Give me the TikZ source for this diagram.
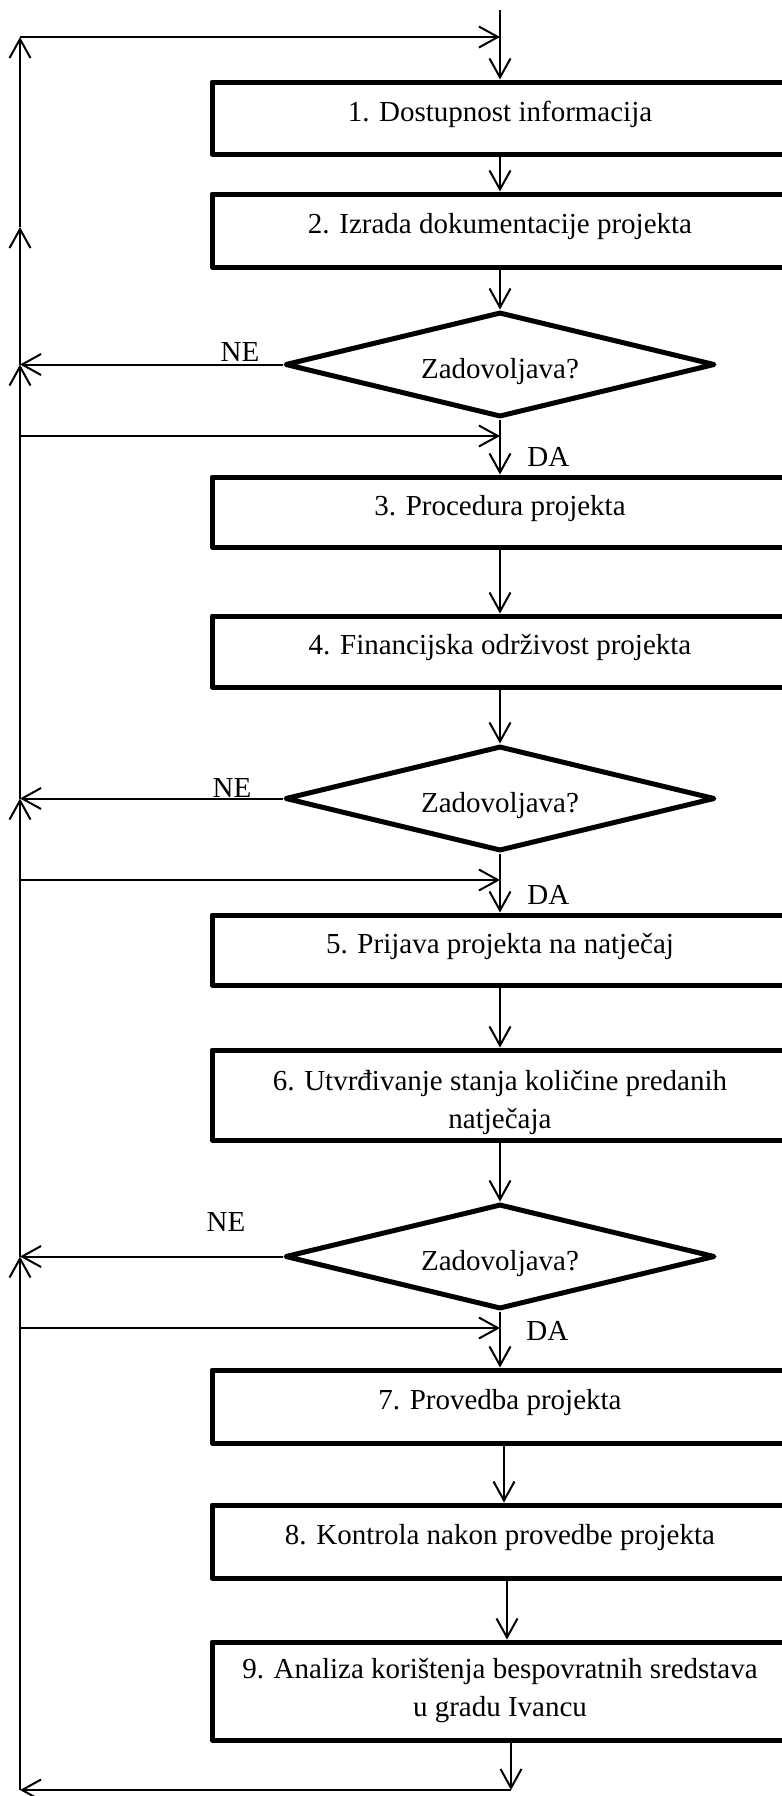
\documentclass[tikz,border=0pt]{standalone}
\usepackage{fontspec}
\setmainfont{Liberation Serif}
\usetikzlibrary{arrows.meta, shapes.geometric}

\begin{document}
\begin{tikzpicture}[
        x=0.5pt, y=-0.5pt,
        font=\fontsize{14.5}{19}\selectfont,
        % boxes and decisions of the flowchart
        stepbox/.style={draw, rectangle, line width=2.5pt, line join=round,
            minimum width=288pt, inner sep=0pt, align=center},
        onel/.style={text depth=6.8pt},
        decision/.style={draw, diamond, aspect=4.1, line width=2.5pt, line join=round,
            minimum width=215pt, minimum height=52.5pt, inner sep=0pt, text height=16.9pt},
        arr/.style={line width=1pt, -{Straight Barb[length=9.5pt, width=10.5pt]}},
        lbl/.style={inner sep=0pt}
    ]
    \useasboundingbox (0,0) rectangle (782,1796);
    \clip (0,0) rectangle (782,1796);

    % steps
    \node[stepbox, onel, minimum height=36pt] (b1) at (500,118) {1. Dostupnost informacija};
    \node[stepbox, onel, minimum height=36.5pt] (b2) at (500,230.5) {2. Izrada dokumentacije projekta};
    \node[decision] (d1) at (500,364.5) {Zadovoljava?};
    \node[stepbox, onel, minimum height=35pt] (b3) at (500,512) {3. Procedura projekta};
    \node[stepbox, onel, minimum height=35.5pt] (b4) at (500,651.5) {4. Financijska održivost projekta};
    \node[decision] (d2) at (500,798.5) {Zadovoljava?};
    \node[stepbox, onel, minimum height=35pt] (b5) at (500,950) {5. Prijava projekta na natječaj};
    \node[stepbox, minimum height=45pt, text height=36.7pt] (b6) at (500,1095)
        {6. Utvrđivanje stanja količine predanih\\natječaja};
    \node[decision] (d3) at (500,1256.5) {Zadovoljava?};
    \node[stepbox, onel, minimum height=36.5pt] (b7) at (500,1406.5) {7. Provedba projekta};
    \node[stepbox, onel, minimum height=36.5pt] (b8) at (500,1541.5) {8. Kontrola nakon provedbe projekta};
    \node[stepbox, minimum height=49pt] (b9) at (500,1691)
        {9. Analiza korištenja bespovratnih sredstava\\u gradu Ivancu};

    % labels
    \node[lbl] (ne1) at (240,352) {NE};
    \node[lbl] (ne2) at (232,788) {NE};
    \node[lbl] (ne3) at (226,1222) {NE};
    \node[lbl, anchor=west] (da1) at (527,457) {DA};
    \node[lbl, anchor=west] (da2) at (527,895) {DA};
    \node[lbl, anchor=west] (da3) at (526,1331) {DA};

    % points on the left rail
    \coordinate (entry) at (500,10);
    \coordinate (ltop) at (20,37);
    \coordinate (lmid) at (20,227);
    \coordinate (lne1) at (d1.west -| ltop);
    \coordinate (lne2) at (d2.west -| ltop);
    \coordinate (lne3) at (d3.west -| ltop);
    \coordinate (lda1) at (20,436);
    \coordinate (lda2) at (20,880);
    \coordinate (lda3) at (20,1328);
    \coordinate (lbot) at (20,1790);
    \coordinate (b9out) at ([xshift=5.5pt]b9.south);
    \coordinate (bcorner) at (b9out |- lbot);

    % main flow
    \draw[line width=1pt] (entry) -- (entry |- ltop);
    \draw[arr] (entry |- ltop) -- (b1.north);
    \draw[arr] (b1) -- (b2);
    \draw[arr] (b2) -- (d1);
    \draw[arr] (d1) -- (b3);
    \draw[arr] (b3) -- (b4);
    \draw[arr] (b4) -- (d2);
    \draw[arr] (d2) -- (b5);
    \draw[arr] (b5) -- (b6);
    \draw[arr] (b6) -- (d3);
    \draw[arr] (d3) -- (b7);
    \draw[arr] ([xshift=2pt]b7.south) -- ([xshift=2pt]b8.north);
    \draw[arr] ([xshift=3.5pt]b8.south) -- ([xshift=3.5pt]b9.north);
    \draw[arr] (b9out) -- (bcorner);
    \draw[arr] (bcorner) -- (lbot);

    % feedback rail
    \draw[arr] (lbot) -- (lne3);
    \draw[arr] (lne3) -- (lne2);
    \draw[arr] (lne2) -- (lne1);
    \draw[arr] (lne1) -- (lmid);
    \draw[arr] (lmid) -- (ltop);
    \draw[arr] (ltop) -- (entry |- ltop);

    % NE branches
    \draw[arr] (d1.west) -- (lne1);
    \draw[arr] (d2.west) -- (lne2);
    \draw[arr] (d3.west) -- (lne3);

    % DA returns
    \draw[arr] (lda1) -- (lda1 -| d1.south);
    \draw[arr] (lda2) -- (lda2 -| d2.south);
    \draw[arr] (lda3) -- (lda3 -| d3.south);
\end{tikzpicture}
\end{document}
